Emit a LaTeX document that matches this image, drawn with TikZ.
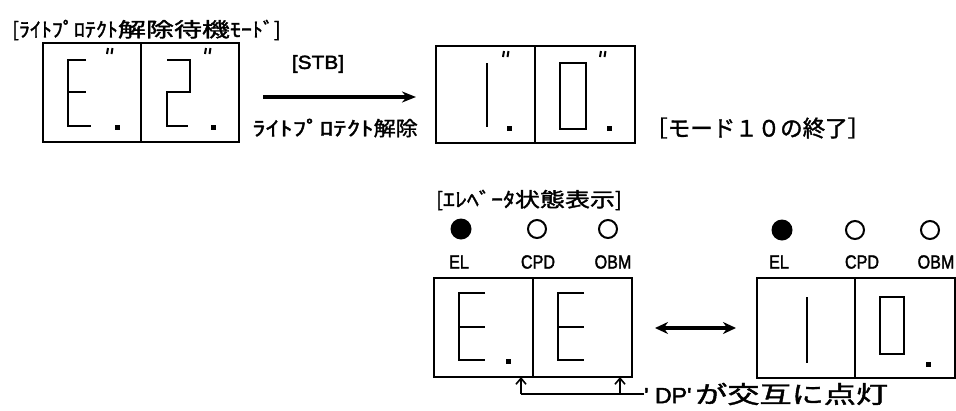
\documentclass[tikz,border=0pt]{standalone}
\usepackage{fontspec}
\setmainfont{Liberation Sans}
\newfontfamily\lat[FakeBold=2]{Liberation Sans}
\newfontfamily\jp[FakeBold=1.5]{Noto Sans CJK JP}
\usetikzlibrary{arrows.meta}
\begin{document}
\begin{tikzpicture}[x=1pt,y=-1pt,
  cell/.style={draw, line width=2pt, minimum width=98pt, minimum height=99pt, inner sep=0pt, outer sep=0pt},
  seg/.style={line width=1.9pt},
  dpdot/.style={fill, rectangle, minimum size=5pt, inner sep=0pt},
  ledon/.style={fill, circle, minimum size=21pt, inner sep=0pt},
  ledoff/.style={draw, line width=2pt, circle, minimum size=18pt, inner sep=0pt},
  lbl/.style={inner sep=0pt, font=\lat\fontsize{19}{19}\selectfont},
  jptxt/.style={inner sep=0pt, font=\jp\fontsize{20}{20}\selectfont},
  tick/.style={line width=2pt}
]
\useasboundingbox (0,0) rectangle (956,410);

% ---------- top-left display E.2.
\node[jptxt, anchor=west] (title1) at (12,30) {[\scalebox{1.1}[1]{ﾗｲﾄﾌﾟﾛﾃｸﾄ}\scalebox{1.4}[1]{解除待機}\scalebox{1.1}[1]{ﾓｰﾄﾞ}]};
\node[cell] (a1) at (92,92.5) {};
\node[cell] (a2) at (190,92.5) {};
\draw[seg] (86,60) -- (68,60) -- (68,126) -- (91,126) (68,92) -- (86,92);
\draw[seg] (167,60) -- (190,60) -- (190,92) -- (167,92) -- (167,126) -- (188,126);
\node[dpdot] (a1dp) at (117,127) {};
\node[dpdot] (a2dp) at (213,127) {};
\draw[tick] (108,48) -- (107,54) (112.5,48) -- (111.5,54);
\draw[tick] (206,48) -- (205,54) (210.5,48) -- (209.5,54);

% ---------- arrow STB
\node[lbl] (stb) at (318,64) {\scalebox{1.1}[1]{[STB]}};
\coordinate (stbs) at (263,97);
\coordinate (stbe) at (416,97);
\draw[line width=3.2pt, -{Stealth[length=14pt,width=11pt]}] (stbs) -- (stbe);
\node[jptxt, anchor=west] (wp) at (252,128) {\scalebox{1.35}[1]{ﾗｲﾄﾌﾟﾛﾃｸﾄ}\scalebox{1.1}[1]{解除}};

% ---------- top-right display 1.0.
\node[cell, minimum width=99.5pt, minimum height=97pt] (b1) at (485.5,94.5) {};
\node[cell, minimum width=99.5pt, minimum height=97pt] (b2) at (585,94.5) {};
\draw[seg] (487,63) -- (487,127);
\draw[seg] (560,63) rectangle (586,129);
\node[dpdot] (b1dp) at (509,128) {};
\node[dpdot] (b2dp) at (609,128) {};
\draw[tick] (504,51) -- (503,57) (508.5,51) -- (507.5,57);
\draw[tick] (601,51) -- (600,57) (605.5,51) -- (604.5,57);
\node[jptxt, anchor=west, font=\jp\fontsize{22.5}{22.5}\selectfont] (endm) at (645,128) {［モード１０の終了］};

% ---------- elevator status
\node[jptxt, anchor=west] (title2) at (436,200) {[\scalebox{1.2}[1]{ｴﾚﾍﾞｰﾀ}\scalebox{1.25}[1]{状態表示}]};
\node[ledon] (l1) at (461,229) {};
\node[ledoff] (l2) at (537,229) {};
\node[ledoff] (l3) at (608,229) {};
\node[lbl] (t1) at (459,262) {\scalebox{0.85}[1]{EL}};
\node[lbl] (t2) at (538,262) {\scalebox{0.85}[1]{CPD}};
\node[lbl] (t3) at (613,262) {\scalebox{0.85}[1]{OBM}};
\node[ledon] (r1) at (782,230) {};
\node[ledoff] (r2) at (855,230) {};
\node[ledoff] (r3) at (930,230) {};
\node[lbl] (u1) at (779,262) {\scalebox{0.85}[1]{EL}};
\node[lbl] (u2) at (862,262) {\scalebox{0.85}[1]{CPD}};
\node[lbl] (u3) at (936,262) {\scalebox{0.85}[1]{OBM}};

% bottom-left display E.E
\node[cell, minimum width=99pt] (c1) at (483.5,327.5) {};
\node[cell, minimum width=99pt] (c2) at (582.5,327.5) {};
\draw[seg] (485,293) -- (459,293) -- (459,360) -- (485,360) (459,327) -- (485,327);
\draw[seg] (584,293) -- (558,293) -- (558,360) -- (584,360) (558,327) -- (584,327);
\node[dpdot] (c1dp) at (508,361) {};

% double arrow
\coordinate (dal) at (655,328);
\coordinate (dar) at (736,328);
\draw[line width=3.2pt, {Stealth[length=13pt,width=12pt]}-{Stealth[length=13pt,width=12pt]}] (dal) -- (dar);

% bottom-right display 1 0.
\node[cell, minimum width=98pt, minimum height=100pt] (d1) at (806,328) {};
\node[cell, minimum width=100pt, minimum height=100pt] (d2) at (904.5,328) {};
\draw[seg] (807,297) -- (807,363);
\draw[seg] (880,297) rectangle (904,354);
\node[dpdot] (d2dp) at (928,364) {};

% DP note
\node[inner sep=0pt, anchor=west] (dpnote) at (644,394) {\lat\fontsize{22}{22}\selectfont\scalebox{1.05}[1]{' DP'}\,\jp\fontsize{24}{24}\selectfont\scalebox{1.34}[1]{が交互に点灯}};
\coordinate (k1) at (521,394);
\coordinate (k2) at (620,394);
\draw[line width=1.8pt] (dpnote.west) -- (k1);
\draw[line width=1.6pt, -{Straight Barb[length=6pt,width=10pt]}] (k1) -- (k1 |- c1.south);
\draw[line width=1.6pt, -{Straight Barb[length=6pt,width=10pt]}] (k2) -- (k2 |- c2.south);
\end{tikzpicture}
\end{document}
